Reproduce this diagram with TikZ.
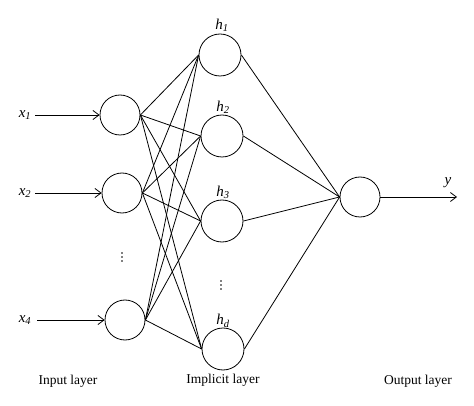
\documentclass[tikz,border=0pt]{standalone}
\usepackage{fontspec}
\setmainfont{Liberation Serif}
\usetikzlibrary{arrows.meta}
\begin{document}
\begin{tikzpicture}[x=1pt,y=-1pt,line width=0.8pt,
  neuron/.style={draw,circle,minimum size=40pt,inner sep=0pt},
  hneuron/.style={draw,circle,minimum size=42pt,inner sep=0pt},
  lbl/.style={font=\fontsize{13.5}{15}\selectfont},
  var/.style={font=\fontsize{15}{17}\selectfont\itshape},
  inarrow/.style={-{Straight Barb[length=6pt,width=9pt]}},
  dot/.style={fill,circle,inner sep=0pt,minimum size=1.6pt}]
\useasboundingbox (0,0) rectangle (474,406);
% input nodes
\node[neuron] (i1) at (120,115) {};
\node[neuron] (i2) at (122,193) {};
\node[neuron] (i4) at (125,320) {};
% hidden nodes
\node[hneuron] (h1) at (220,55) {};
\node[hneuron] (h2) at (222,136) {};
\node[hneuron] (h3) at (222,221) {};
\node[hneuron] (hd) at (223,349) {};
% output
\node[neuron] (o) at (360,197) {};
% vertical dots
\foreach \k in {-4,0,4}{
  \node[dot] at (122,257+\k) {};
  \node[dot] at (221,285+\k) {};
}
% labels
\node[var] (lx1) at (25,115) {x\textsubscript{1}};
\node[var] (lx2) at (25,193) {x\textsubscript{2}};
\node[var] (lx4) at (25,320) {x\textsubscript{4}};
\node[var] (lh1) at (222,25) {h\textsubscript{1}};
\node[var] (lh2) at (223,107) {h\textsubscript{2}};
\node[var] (lh3) at (223,192) {h\textsubscript{3}};
\node[var] (lhd) at (223,321) {h\textsubscript{d}};
\node[var] (ly) at (448,183) {y};
\coordinate (c1) at (35,115);
\coordinate (c2) at (35,193);
\coordinate (c4) at (37,320);
\coordinate (cy) at (457,197);
\draw[inarrow] (c1) -- (i1.west);
\draw[inarrow] (c2) -- (i2.west);
\draw[inarrow] (c4) -- (i4.west);
\draw[inarrow] (o.east) -- (cy);
\foreach \i in {i1,i2,i4}{
  \foreach \h in {h1,h2,h3,hd}{
    \draw (\i.east) -- (\h.west);
  }
}
\foreach \h in {h1,h2,h3,hd}{
  \draw (\h.east) -- (o.west);
}
\node[lbl] (L1) at (68,381) {Input layer};
\node[lbl] (L2) at (223,380) {Implicit layer};
\node[lbl] (L3) at (418,381) {Output layer};
\end{tikzpicture}
\end{document}
